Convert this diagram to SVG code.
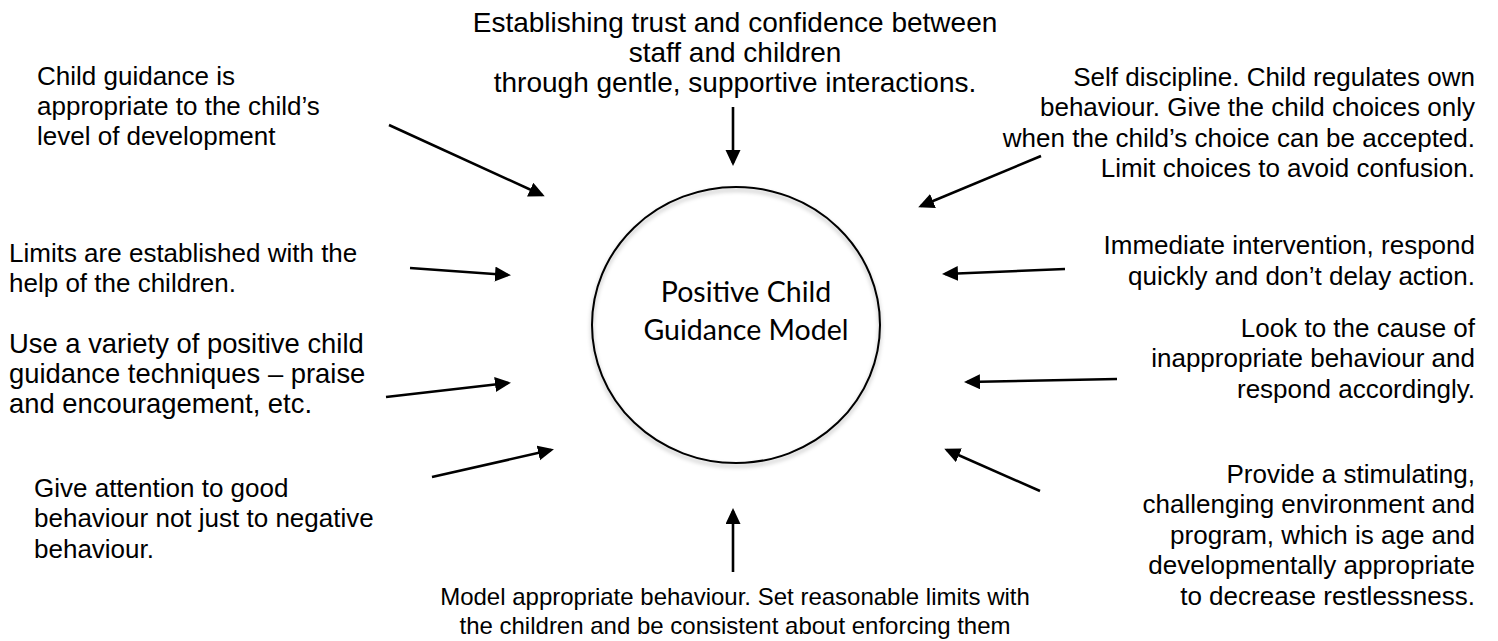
<svg xmlns="http://www.w3.org/2000/svg" width="1498" height="641" viewBox="0 0 1498 641">
<style>
text{font-family:"Liberation Sans",Arial,sans-serif;font-size:26px;fill:#000}
.r{text-anchor:end}
.c{text-anchor:middle}
.t{font-size:28px}
.b{font-size:24px}
.l3{font-size:27.4px}
.m{font-family:Lato,"Open Sans",sans-serif;font-size:28.5px;text-anchor:middle}
.a{stroke:#000;stroke-width:2.6;fill:none;marker-end:url(#h)}
</style>
<defs>
<marker id="h" markerUnits="userSpaceOnUse" markerWidth="18" markerHeight="16" refX="13" refY="7.5" orient="auto">
<path d="M0,0 L16,7.5 L0,15 z" fill="#000"/>
</marker>
<filter id="sh" x="-10%" y="-10%" width="120%" height="125%">
<feDropShadow dx="0" dy="3" stdDeviation="2" flood-color="#000" flood-opacity="0.3"/>
</filter>
</defs>
<rect width="1498" height="641" fill="#fff"/>
<g id="center">
<ellipse cx="736" cy="325" rx="144" ry="138" fill="none" stroke="#000" stroke-width="2" filter="url(#sh)"/>
<text class="m" x="746" y="302">Positive Child</text>
<text class="m" x="746" y="340">Guidance Model</text>
</g>
<g id="n-top" class="t"><text class="c t" x="735" y="32">Establishing trust and confidence between</text><text class="c t" x="735" y="62">staff and children</text><text class="c t" x="735" y="92">through gentle, supportive interactions.</text></g>
<g id="n-l1"><text x="37" y="85">Child guidance is</text><text x="37" y="115">appropriate to the child’s</text><text x="37" y="145">level of development</text></g>
<g id="n-l2"><text x="9" y="262">Limits are established with the</text><text x="9" y="292">help of the children.</text></g>
<g id="n-l3"><text class="l3" x="9" y="353">Use a variety of positive child</text><text class="l3" x="9" y="383">guidance techniques – praise</text><text class="l3" x="9" y="413">and encouragement, etc.</text></g>
<g id="n-l4"><text x="34" y="497">Give attention to good</text><text x="34" y="527">behaviour not just to negative</text><text x="34" y="558">behaviour.</text></g>
<g id="n-bottom"><text class="c b" x="735" y="605">Model appropriate behaviour. Set reasonable limits with</text><text class="c b" x="735" y="634">the children and be consistent about enforcing them</text></g>
<g id="n-r1"><text class="r" x="1475" y="86">Self discipline. Child regulates own</text><text class="r" x="1475" y="116">behaviour. Give the child choices only</text><text class="r" x="1475" y="147">when the child’s choice can be accepted.</text><text class="r" x="1475" y="177">Limit choices to avoid confusion.</text></g>
<g id="n-r2"><text class="r" x="1475" y="254">Immediate intervention, respond</text><text class="r" x="1475" y="285">quickly and don’t delay action.</text></g>
<g id="n-r3"><text class="r" x="1475" y="337">Look to the cause of</text><text class="r" x="1475" y="367">inappropriate behaviour and</text><text class="r" x="1475" y="398">respond accordingly.</text></g>
<g id="n-r4"><text class="r" x="1475" y="483">Provide a stimulating,</text><text class="r" x="1475" y="513">challenging environment and</text><text class="r" x="1475" y="544">program, which is age and</text><text class="r" x="1475" y="574">developmentally appropriate</text><text class="r" x="1475" y="605">to decrease restlessness.</text></g>
<g id="connectors">
<line class="a" x1="389" y1="125" x2="542" y2="195"/>
<line class="a" x1="733" y1="107" x2="733" y2="163"/>
<line class="a" x1="1041" y1="156" x2="921" y2="206"/>
<line class="a" x1="410" y1="268" x2="508" y2="275"/>
<line class="a" x1="1065" y1="269" x2="945" y2="274"/>
<line class="a" x1="386" y1="397" x2="508" y2="383"/>
<line class="a" x1="1117" y1="379" x2="967" y2="382"/>
<line class="a" x1="432" y1="477" x2="551" y2="450"/>
<line class="a" x1="1040" y1="491" x2="947" y2="450"/>
<line class="a" x1="733" y1="572" x2="733" y2="511"/>
</g>
</svg>
